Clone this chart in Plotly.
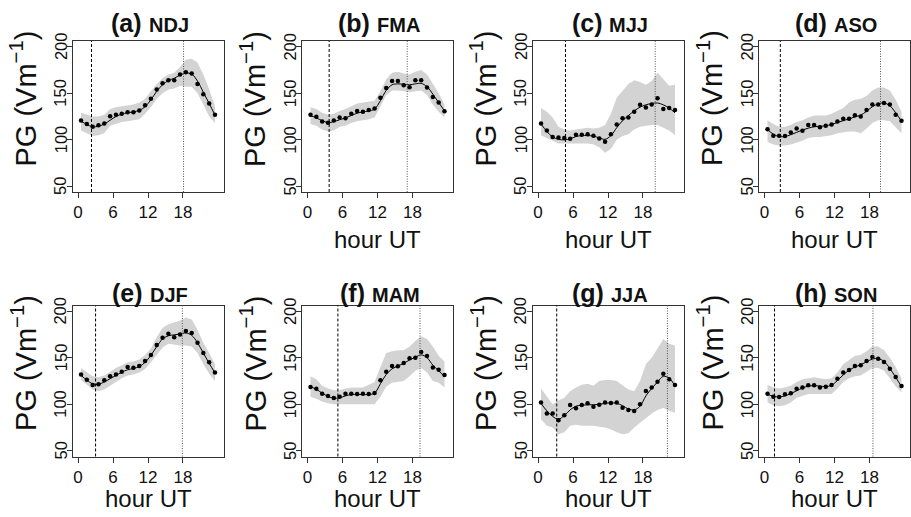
import plotly.graph_objects as go

# ---------------- data ----------------
hours = [0.5, 1.5, 2.5, 3.5, 4.5, 5.5, 6.5, 7.5, 8.5, 9.5, 10.5, 11.5,
         12.5, 13.5, 14.5, 15.5, 16.5, 17.5, 18.5, 19.5, 20.5, 21.5, 22.5, 23.5]

panel_letters = ["(a)", "(b)", "(c)", "(d)", "(e)", "(f)", "(g)", "(h)"]
seasons = ["NDJ", "FMA", "MJJ", "ASO", "DJF", "MAM", "JJA", "SON"]
show_xlabel = [False, True, True, True, True, True, True, True]

x_ticks = [0, 6, 12, 18]
y_ticks = [50, 100, 150, 200]

# hour of minimum (dashed) and maximum (dotted) of the fitted cycle
min_hour = [2.3, 3.7, 4.7, 2.7, 3.0, 5.2, 3.2, 1.7]
max_hour = [18.1, 17.1, 20.1, 19.9, 17.9, 19.3, 22.2, 18.6]

# (a) NDJ
pg_ndj = [120.7, 117, 114, 115.7, 117.5, 125.4, 127, 128, 129.6, 129.6, 131.4, 137,
          144, 154, 160.7, 164, 164, 170, 172.5, 171, 160, 149, 139, 127]
fit_ndj = [120, 116.5, 114, 114.5, 117, 121, 125, 127.5, 129, 130, 131.5, 135.5,
           143, 152, 159, 163.5, 166, 169.5, 171.5, 170.5, 163, 151, 139, 126.5]
up_ndj = [129, 127, 125, 125, 127, 133, 135, 136, 137, 138, 140, 144,
          152, 160, 166, 170, 172, 178, 186, 187, 183, 170, 154, 136]
lo_ndj = [110, 107, 104, 105, 107, 115, 117, 119, 120, 121, 122, 128,
          135, 144, 150, 154, 155, 158, 157, 157, 150, 138, 125, 118]

# (b) FMA
pg_fma = [126.8, 124.6, 119.6, 118.2, 120.7, 124, 123, 128, 131, 130, 132, 133.6,
          145, 155.7, 163, 163, 158.6, 156.4, 164, 164, 156, 146, 140, 130.7]
fit_fma = [126, 123.5, 120.5, 118.5, 119.5, 121.5, 123.5, 126, 128.5, 130, 131, 133,
           142, 153, 159, 160, 159.5, 159, 160, 160.5, 157, 149, 140, 131]
up_fma = [135, 133, 129, 127, 128, 131, 133, 136, 139, 140, 141, 142,
          152, 165, 172, 173, 171, 170, 173, 175, 170, 160, 150, 138]
lo_fma = [117, 115, 111, 109, 110, 114, 115, 118, 120, 121, 122, 124,
          136, 148, 153, 153, 152, 151, 152, 153, 148, 138, 130, 124]

# (c) MJJ
pg_mjj = [117.5, 110, 102.9, 102.5, 102, 101, 105.4, 105.4, 106, 104.3, 101.4, 98,
          106, 116.4, 123, 124, 130, 137.5, 134.6, 138, 144.6, 133, 134, 132]
fit_mjj = [117, 109, 103, 100.5, 100, 101, 103.5, 104.5, 104.5, 104, 102, 100.5,
           104.5, 113, 120.5, 126, 131, 135, 137.5, 139, 139.5, 137.5, 134, 129]
up_mjj = [134, 130, 124, 114, 111, 110, 111, 112, 113, 112, 113, 116,
          128, 145, 153, 160, 164, 162, 159, 163, 172, 165, 158, 159]
lo_mjj = [105, 102, 99, 96, 96, 96, 96, 96, 96, 95, 92, 86,
          90, 100, 104, 106, 111, 114, 115, 116, 116, 113, 110, 105]

# (d) ASO
pg_aso = [111.4, 104.3, 104.3, 104, 107.9, 112, 109.6, 116, 116, 113.6, 115, 116.4,
          119.6, 122.5, 122.5, 126.4, 125, 132, 138, 137.9, 139.6, 137.9, 126.8, 120.4]
fit_aso = [111, 106, 103.5, 103.5, 105.5, 108, 110.5, 112.5, 114, 114.5, 115, 116.5,
           118.5, 120.5, 122.5, 124.5, 126.5, 130.5, 135.5, 138.5, 139.5, 136.5, 129, 120]
up_aso = [121, 117, 114, 114, 116, 119, 121, 124, 126, 126, 126, 128,
          131, 134, 140, 143, 144, 147, 153, 156, 156, 153, 143, 130]
lo_aso = [98, 95, 94, 94, 95, 97, 99, 102, 103, 103, 104, 105,
          107, 108, 109, 109, 107, 112, 118, 121, 121, 120, 114, 107]

# (e) DJF
pg_djf = [132, 126.4, 120.7, 121.4, 125.7, 130, 132, 135, 140, 139.3, 141, 146.4,
          152.9, 163.6, 171.4, 175.7, 172, 175, 178.6, 176.4, 166, 155, 145, 134]
fit_djf = [131, 126, 122, 121.5, 124, 127.5, 131, 134.5, 137, 138.5, 140.5, 145,
           152.5, 162, 170, 173.5, 174.5, 175.5, 176.5, 174, 166, 155, 144, 133.5]
up_djf = [139, 134, 130, 129, 131, 135, 139, 142, 145, 146, 148, 153,
          160, 172, 182, 186, 188, 190, 193, 191, 180, 166, 155, 143]
lo_djf = [126, 121, 116, 114, 116, 120, 124, 128, 131, 132, 134, 138,
          145, 153, 161, 165, 164, 163, 163, 162, 155, 143, 133, 125]

# (f) MAM
pg_mam = [118.6, 116.8, 111.4, 109, 106.8, 108.2, 111.4, 111.4, 111, 111.4, 111, 112,
          125.7, 135, 141, 140.7, 144.3, 149.3, 150, 156, 151.8, 139.6, 137, 131.4]
fit_mam = [119, 116, 112, 108.5, 106.5, 107, 109, 110.5, 110.5, 110.5, 110.5, 112,
           122, 132, 138, 141, 144, 147.5, 150.5, 153, 150, 142, 136, 129.5]
up_mam = [130, 127, 120, 117, 115, 115, 117, 118, 118, 118, 121, 124,
          140, 155, 157, 158, 158, 162, 168, 173, 170, 162, 152, 146]
lo_mam = [108, 106, 103, 101, 100, 100, 100, 100, 100, 100, 100, 100,
          108, 119, 123, 124, 125, 130, 136, 139, 134, 125, 123, 118]

# (g) JJA
pg_jja = [102, 90, 90, 82.9, 88.2, 99.3, 95.7, 99.3, 101, 97.5, 99.6, 101.8,
          101.4, 102, 96.4, 94, 92.9, 100, 114.3, 117.9, 124.3, 132.9, 126.8, 120.7]
fit_jja = [101, 93, 87, 84, 88, 94, 98, 99, 99.5, 99.5, 100, 101,
           101.5, 101, 98.5, 95, 94, 98, 109, 117, 124, 130, 128, 120]
up_jja = [117, 108, 100, 104, 107, 114, 118, 121, 122, 120, 125, 126,
          126, 125, 120, 116, 114, 125, 143, 150, 160, 170, 165, 163]
lo_jja = [84, 77, 75, 68, 70, 77, 78, 77, 77, 77, 76, 75,
          73, 70, 68, 69, 75, 80, 86, 90, 94, 96, 93, 91]

# (h) SON
pg_son = [111.4, 108.2, 107.9, 110.7, 111.8, 116.8, 117.9, 120.4, 120.4, 117.9, 118.9, 120.7,
          127.5, 134, 136.8, 141, 141.8, 146.4, 150.7, 149, 145.4, 138.2, 129.3, 119.6]
fit_son = [111, 108.5, 108, 109, 111.5, 114.5, 117.5, 119.5, 120, 119.5, 119, 120.5,
           125.5, 131.5, 136.5, 140, 142.5, 145.5, 148.5, 149, 146, 138.5, 129, 119]
up_son = [121, 118, 117, 118, 120, 124, 127, 128, 129, 128, 127, 128,
          134, 143, 148, 152, 153, 157, 162, 162, 158, 150, 140, 128]
lo_son = [102, 99, 98, 99, 102, 107, 109, 111, 111, 111, 111, 111,
          117, 124, 128, 130, 131, 135, 139, 139, 136, 128, 119, 113]

points = [pg_ndj, pg_fma, pg_mjj, pg_aso, pg_djf, pg_mam, pg_jja, pg_son]
fits = [fit_ndj, fit_fma, fit_mjj, fit_aso, fit_djf, fit_mam, fit_jja, fit_son]
uppers = [up_ndj, up_fma, up_mjj, up_aso, up_djf, up_mam, up_jja, up_son]
lowers = [lo_ndj, lo_fma, lo_mjj, lo_aso, lo_djf, lo_mam, lo_jja, lo_son]

# ---------------- layout geometry (pixels) ----------------
W, H = 911, 517
box_left = [72.5, 302, 532.5, 759]
box_top = [41, 305.5]
title_y = [23, 293]
ylab_y = [98.5, 363]
xlab_y = [239, 498.5]
box_w, box_h = 151, 151


def px(x):
    return x / W


def py(y):
    return 1 - y / H


FONT = "Liberation Sans, Arial, Helvetica, sans-serif"
BAND = "#d3d3d3"
AXC = "#333333"
TXT = "#111111"

# approximate bold glyph widths (em) for title centring
bold_w = {"(": 0.333, ")": 0.333, "a": 0.556, "b": 0.611, "c": 0.556, "d": 0.611,
          "e": 0.556, "f": 0.333, "g": 0.611, "h": 0.611, "N": 0.722, "D": 0.722,
          "J": 0.556, "F": 0.611, "M": 0.833, "A": 0.722, "S": 0.667, "O": 0.778}
LET_SIZE, SEA_SIZE = 25, 20

fig = go.Figure()
annotations = []
shapes = []
layout_axes = {}

for i in range(8):
    r, c = divmod(i, 4)
    k = i + 1
    xa = "x" if k == 1 else f"x{k}"
    ya = "y" if k == 1 else f"y{k}"
    xkey = "xaxis" if k == 1 else f"xaxis{k}"
    ykey = "yaxis" if k == 1 else f"yaxis{k}"

    L = box_left[c]
    T = box_top[r]

    fig.add_trace(go.Scatter(x=hours, y=lowers[i], mode="lines", line=dict(width=0, color=BAND),
                             xaxis=xa, yaxis=ya, showlegend=False, hoverinfo="skip"))
    fig.add_trace(go.Scatter(x=hours, y=uppers[i], mode="lines", line=dict(width=0, color=BAND),
                             fill="tonexty", fillcolor=BAND,
                             xaxis=xa, yaxis=ya, showlegend=False, hoverinfo="skip"))
    fig.add_trace(go.Scatter(x=hours, y=fits[i], mode="lines",
                             line=dict(width=1, color="black", shape="spline"),
                             xaxis=xa, yaxis=ya, showlegend=False))
    fig.add_trace(go.Scatter(x=hours, y=points[i], mode="markers",
                             marker=dict(size=4.5, color="black"),
                             xaxis=xa, yaxis=ya, showlegend=False))

    shapes.append(dict(type="line", xref=xa, yref=f"{ya} domain", x0=min_hour[i], x1=min_hour[i],
                       y0=0, y1=1, line=dict(color="black", width=1, dash="3px,2px"), layer="above"))
    shapes.append(dict(type="line", xref=xa, yref=f"{ya} domain", x0=max_hour[i], x1=max_hour[i],
                       y0=0, y1=1, line=dict(color="#555555", width=1, dash="1px,1.5px"), layer="above"))

    layout_axes[xkey] = dict(domain=[px(L), px(L + box_w)], anchor=ya, range=[-0.96, 24.96],
                             tickvals=x_ticks, ticktext=[str(v) for v in x_ticks],
                             ticks="outside", ticklen=5, tickcolor=AXC,
                             showline=True, mirror=True, linecolor=AXC, linewidth=1,
                             showgrid=False, zeroline=False,
                             tickfont=dict(size=17, color=TXT, family=FONT))
    layout_axes[ykey] = dict(domain=[py(T + box_h), py(T)], anchor=xa, range=[44, 206],
                             tickvals=y_ticks, showticklabels=False,
                             ticks="outside", ticklen=5, tickcolor=AXC,
                             showline=True, mirror=True, linecolor=AXC, linewidth=1,
                             showgrid=False, zeroline=False)

    # rotated y tick labels, centred on their ticks
    for v in y_ticks:
        annotations.append(dict(
            xref="paper", yref=ya, x=px(L - 12), y=v,
            xanchor="center", yanchor="middle", showarrow=False, textangle=-90,
            text=str(v), font=dict(family=FONT, size=16.5, color=TXT)))

    # panel title: "(x)" larger, season smaller, both bold
    wl = sum(bold_w[ch] for ch in panel_letters[i]) * LET_SIZE
    ws = sum(bold_w[ch] for ch in seasons[i]) * SEA_SIZE
    gap = 0.278 * LET_SIZE
    cx = L + box_w / 2
    start = cx - (wl + gap + ws) / 2
    ty = title_y[r]
    annotations.append(dict(
        xref="paper", yref="paper", x=px(start), y=py(ty),
        xanchor="left", yanchor="middle", showarrow=False,
        text=f"<b>{panel_letters[i]}</b>",
        font=dict(family=FONT, size=LET_SIZE, color=TXT)))
    annotations.append(dict(
        xref="paper", yref="paper", x=px(start + wl + gap), y=py(ty + 1.5),
        xanchor="left", yanchor="middle", showarrow=False,
        text=f"<b>{seasons[i]}</b>",
        font=dict(family=FONT, size=SEA_SIZE, color=TXT)))
    # y label
    annotations.append(dict(
        xref="paper", yref="paper", x=px(L - 48.5), y=py(ylab_y[r]),
        xanchor="center", yanchor="middle", showarrow=False, textangle=-90,
        text="PG (Vm<sup>\u22121</sup>)",
        font=dict(family=FONT, size=29, color=TXT)))
    # x label
    if show_xlabel[i]:
        annotations.append(dict(
            xref="paper", yref="paper", x=px(L + box_w / 2), y=py(xlab_y[r]),
            xanchor="center", yanchor="middle", showarrow=False,
            text="hour UT",
            font=dict(family=FONT, size=24, color=TXT)))

fig.update_layout(width=W, height=H, margin=dict(l=0, r=0, t=0, b=0),
                  paper_bgcolor="white", plot_bgcolor="white",
                  showlegend=False, annotations=annotations, shapes=shapes,
                  hovermode=False,
                  font=dict(family=FONT, color=TXT), **layout_axes)

fig.write_html("out.html",
               config={"displayModeBar": False, "staticPlot": True},
               post_script="document.body.style.margin='0px';document.body.style.overflow='hidden';")
